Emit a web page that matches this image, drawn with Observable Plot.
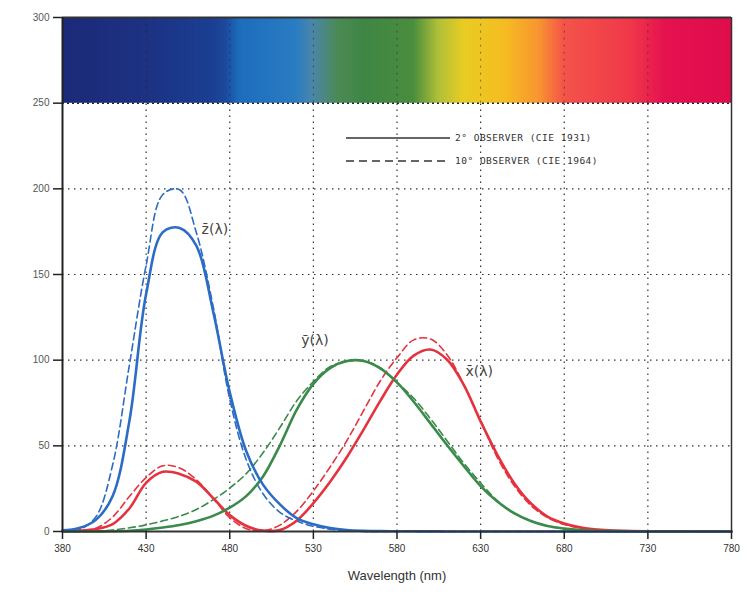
<!DOCTYPE html>
<html>
<head>
<meta charset="utf-8">
<script src="https://cdn.jsdelivr.net/npm/d3@7"></script>
<script src="https://cdn.jsdelivr.net/npm/@observablehq/plot@0.6"></script>
<style>
  html, body { margin: 0; padding: 0; background: #fff; }
  #wrap { position: relative; width: 749px; height: 596px; }
  #legend { position: absolute; left: 346px; top: 126px; font-family: "DejaVu Sans Mono", monospace; font-size: 9.5px; letter-spacing: 0.5px; color: #333; }
  #legend div { display: flex; align-items: center; height: 23px; }
  #legend svg { margin-right: 5px; }
</style>
</head>
<body>
<div id="wrap">
  <div id="chart"></div>
  <div id="legend"></div>
</div>
<script>
// Wavelengths (nm)
const wavelengths = [380,390,400,410,420,430,440,450,460,470,480,490,500,510,520,530,540,550,560,570,580,590,600,610,620,630,640,650,660,670,680,690,700,710,720,730,740,750,760,770,780];

// 2° observer (CIE 1931), values ×100
const x2 = [0.14,0.42,1.43,4.35,13.44,28.39,34.83,33.62,29.08,19.54,9.56,3.20,0.49,0.93,6.33,16.55,29.04,43.35,59.45,76.21,91.63,102.63,106.22,100.26,85.45,64.24,44.79,28.35,16.49,8.74,4.68,2.27,1.14,0.58,0.29,0.14,0.07,0.03,0.02,0.01,0.00];
const y2 = [0.00,0.01,0.04,0.12,0.40,1.16,2.30,3.80,6.00,9.10,13.90,20.80,32.30,50.30,71.00,86.20,95.40,99.50,99.50,95.20,87.00,75.70,63.10,50.30,38.10,26.50,17.50,10.70,6.10,3.20,1.70,0.82,0.41,0.21,0.10,0.05,0.02,0.01,0.01,0.00,0.00];
const z2 = [0.65,2.01,6.79,20.74,64.56,138.56,174.71,177.21,166.92,128.76,81.30,46.52,27.20,15.82,7.83,4.22,2.03,0.88,0.39,0.21,0.17,0.11,0.08,0.03,0.02,0.01,0,0,0,0,0,0,0,0,0,0,0,0,0,0,0];

// 10° observer (CIE 1964), values ×100
const x10 = [0.02,0.24,1.91,8.47,20.45,31.47,38.37,37.07,30.23,19.56,8.05,1.62,0.38,3.75,11.77,23.65,37.68,52.98,70.52,87.87,101.42,111.85,112.40,103.05,85.63,64.75,43.16,26.83,15.26,8.13,4.09,1.99,0.96,0.46,0.22,0.10,0.05,0.03,0.01,0.01,0.00];
const y10 = [0.00,0.03,0.20,0.88,2.14,3.87,6.21,8.95,12.82,18.52,25.36,33.91,46.08,60.67,76.18,87.52,96.20,99.18,99.73,95.56,86.89,77.74,65.83,52.80,39.81,28.35,17.98,10.76,6.03,3.18,1.59,0.77,0.37,0.18,0.08,0.04,0.02,0.01,0.00,0.00,0.00];
const z10 = [0.07,1.05,8.60,38.94,97.25,155.35,196.73,199.48,174.54,131.76,77.21,41.53,21.85,11.20,6.07,3.05,1.37,0.40,0,0,0,0,0,0,0,0,0,0,0,0,0,0,0,0,0,0,0,0,0,0,0];

// Tick labels
const xTicks = [380,430,480,530,580,630,680,730,780];
const yTicks = [0,50,100,150,200,250,300];

// Spectrum band colour stops
const bandStops = [380,430,470,478,486,520,530,545,560,590,605,620,645,665,680,720,740,780];
const bandColors = ["#1c2a78","#1d3283","#1b3f93","#1c4a9e","#1d6dbd","#2a7cc2","#4a86a8","#4c8a55","#3f8645","#4a8d3e","#b0c038","#e8cc22","#f5bc22","#f89530","#f3544a","#f0384a","#e51250","#e00c4c"];

// Series names / labels
const seriesNames = ["x̄(λ)", "ȳ(λ)", "z̄(λ)"];
const seriesColors = ["#e5323f", "#3a8a4c", "#2c6cc4"];
const legendLabels = ["2° OBSERVER (CIE 1931)", "10° OBSERVER (CIE 1964)"];

const obs2 = [x2, y2, z2];
const obs10 = [x10, y10, z10];

function rows(set) {
  const out = [];
  set.forEach((vals, i) => vals.forEach((v, j) => out.push({wl: wavelengths[j], v, s: i})));
  return out;
}
const rows2 = rows(obs2);
const rows10 = rows(obs10);

const bandScale = d3.scaleLinear().domain(bandStops).range(bandColors).interpolate(d3.interpolateRgb);
const band = d3.range(380, 780, 1).map(w => ({x1: w, x2: Math.min(w + 1.6, 780), c: bandScale(w + 0.5)}));

// Curve label anchors derived from each 2° curve's peak
const labelOffsets = [{dx: 35, dy: 26, anchor: "start"}, {dx: -18, dy: -16, anchor: "end"}, {dx: 22, dy: 6, anchor: "start"}];
const labels = obs2.map((vals, i) => {
  const k = d3.maxIndex(vals);
  return {wl: wavelengths[k], v: vals[k], text: seriesNames[i], ...labelOffsets[i]};
});

const gridX = xTicks.slice(1, -1);
const gridY = yTicks.slice(1, -2);
const dotted = "1.5,4.5";
const font = "'Liberation Sans', Arial, sans-serif";

const chart = Plot.plot({
  width: 749,
  height: 596,
  marginTop: 17,
  marginBottom: 65,
  marginLeft: 62,
  marginRight: 18,
  style: {fontFamily: font, background: "#fff"},
  x: {domain: [380, 780]},
  y: {domain: [0, 300]},
  color: {type: "identity"},
  marks: [
    Plot.rect(band, {x1: "x1", x2: "x2", y1: 250, y2: 300, fill: "c"}),
    Plot.ruleX(gridX, {y1: 0, y2: 250, stroke: "#333", strokeWidth: 1.2, strokeDasharray: dotted}),
    Plot.ruleX(gridX, {y1: 250, y2: 300, stroke: "#222", strokeOpacity: 0.5, strokeWidth: 1, strokeDasharray: "2,5"}),
    Plot.ruleY(gridY, {stroke: "#333", strokeWidth: 1.2, strokeDasharray: dotted}),
    Plot.ruleY([250], {stroke: "#223", strokeWidth: 1.5, strokeDasharray: "2,3"}),
    Plot.ruleY([300], {stroke: "#333", strokeWidth: 2}),
    Plot.line(rows10, {x: "wl", y: "v", z: "s", stroke: d => seriesColors[d.s], strokeWidth: 1.6, strokeDasharray: "7,4", curve: "catmull-rom"}),
    Plot.line(rows2, {x: "wl", y: "v", z: "s", stroke: d => seriesColors[d.s], strokeWidth: 2.6, curve: "catmull-rom"}),
    Plot.ruleY([0], {stroke: "#333", strokeWidth: 2.2}),
    Plot.ruleX([380], {stroke: "#222", strokeWidth: 2}),
    Plot.ruleX([780], {stroke: "#333", strokeWidth: 1.5}),
    Plot.axisX({ticks: xTicks, tickFormat: d => String(d), tickSize: 8, tickPadding: 5, fontSize: 10, stroke: "#222", strokeWidth: 1.5, label: null, fill: "#333"}),
    Plot.axisY({ticks: yTicks, tickFormat: d => String(d), tickSize: 9, tickPadding: 4, fontSize: 10, stroke: "#222", strokeWidth: 1.5, label: null, fill: "#555"}),
    Plot.text(["Wavelength (nm)"], {frameAnchor: "bottom", dy: 48, fontSize: 13, fill: "#333", fontFamily: font}),
    Plot.text(labels, {x: "wl", y: "v", text: "text", textAnchor: "start", fontSize: 14, fill: "#444", fontFamily: "'DejaVu Sans', sans-serif"})
  ]
});
document.getElementById("chart").appendChild(chart);

// Apply per-label offsets
const labelNodes = chart.querySelectorAll("g[aria-label='text'] text");
labelNodes.forEach(t => {
  const lab = labels.find(l => l.text === t.textContent);
  if (lab) {
    const x = +t.getAttribute("x") || 0, y = +t.getAttribute("y") || 0;
    t.setAttribute("x", x + lab.dx);
    t.setAttribute("y", y + lab.dy);
    t.setAttribute("text-anchor", lab.anchor);
  }
});

// Legend
const legend = document.getElementById("legend");
legendLabels.forEach((txt, i) => {
  const row = document.createElement("div");
  const dash = i === 0 ? "" : "stroke-dasharray='8,5'";
  row.innerHTML = `<svg width="104" height="6"><line x1="0" y1="3" x2="104" y2="3" stroke="#333" stroke-width="${i === 0 ? 1.6 : 1.4}" ${dash}/></svg><span>${txt}</span>`;
  legend.appendChild(row);
});
</script>
</body>
</html>
